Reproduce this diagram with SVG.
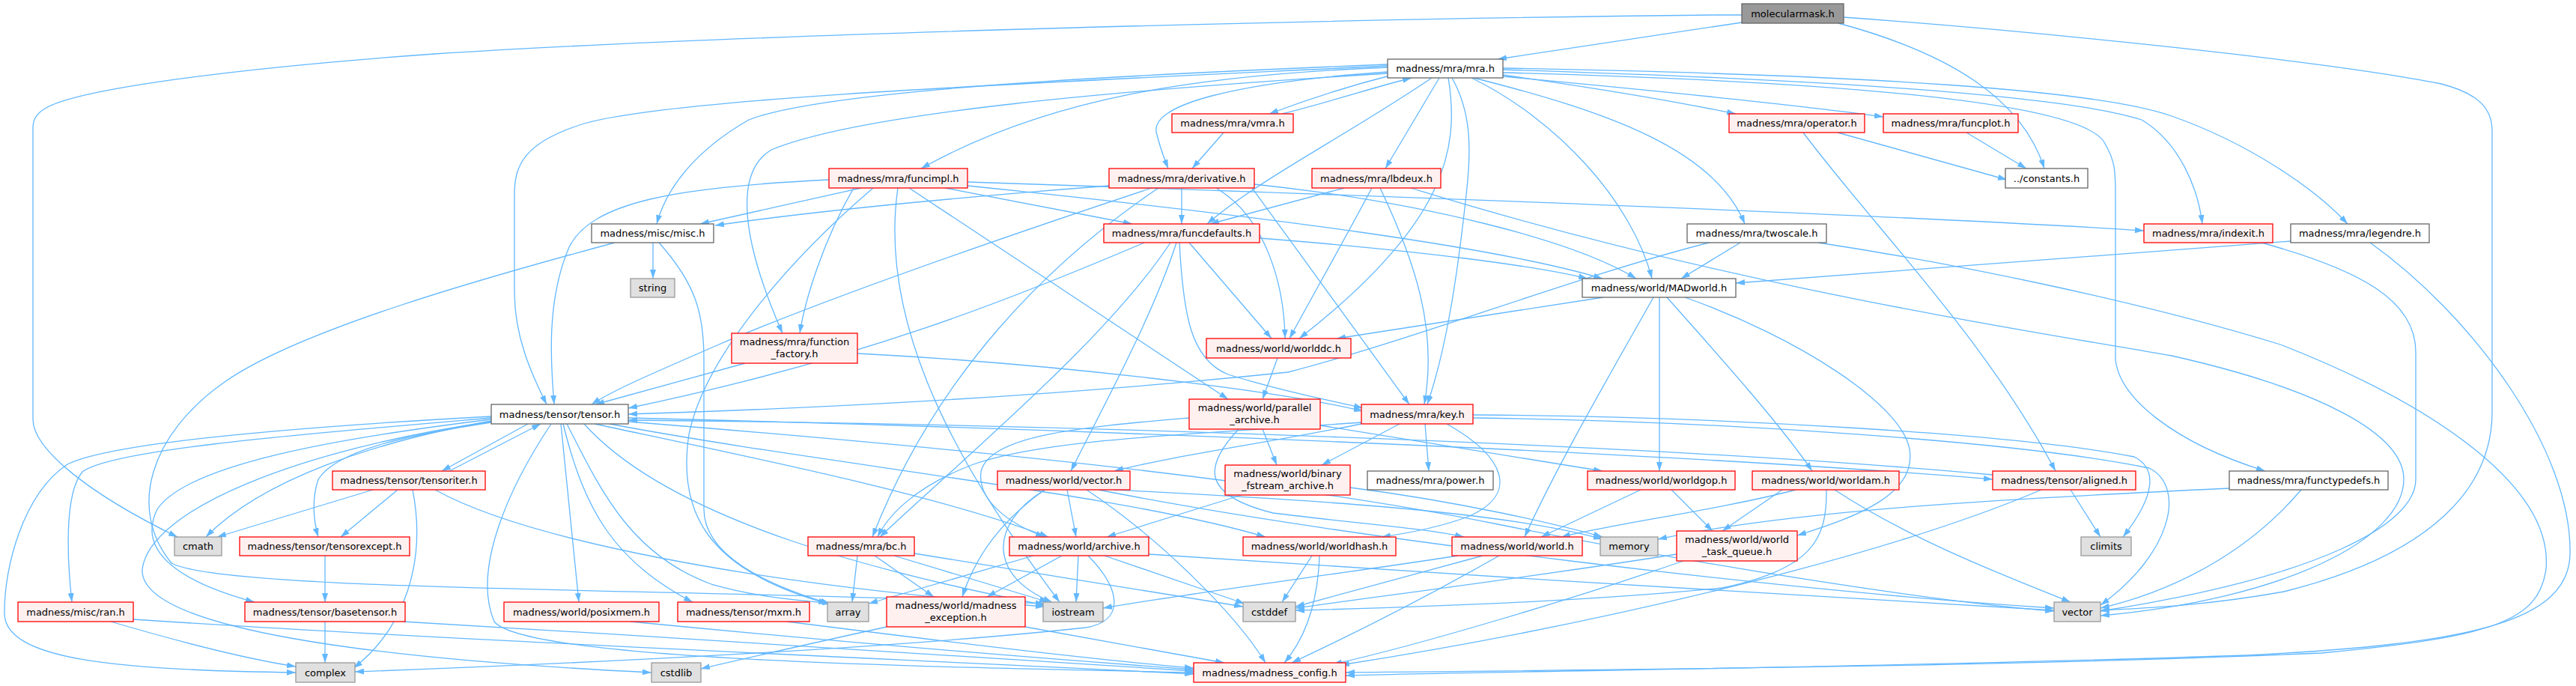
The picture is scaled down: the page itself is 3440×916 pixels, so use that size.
<svg xmlns="http://www.w3.org/2000/svg" width="3440" height="916" viewBox="0 0 3440 916">
<defs>
<marker id="a" viewBox="0 0 12 8" refX="12" refY="4" markerWidth="12" markerHeight="8" markerUnits="userSpaceOnUse" orient="auto"><path d="M0,0 L12,4 L0,8 z" fill="#63b8ff"/></marker>
</defs>
<style>
.e path{fill:none;stroke:#63b8ff;stroke-width:1.3;marker-end:url(#a)}
rect{stroke-width:1.3}
.w rect{fill:#ffffff;stroke:#666666}
.r rect{fill:#fff0f0;stroke:#ff0000}
.g rect{fill:#e0e0e0;stroke:#999999}
.k rect{fill:#999999;stroke:#666666}
text{font-family:"DejaVu Sans","Liberation Sans",sans-serif;font-size:13px;fill:#000000;text-anchor:middle}
</style>
<rect width="3440" height="916" fill="#ffffff"/>
<g class="e" id="edges">
<path d="M2326,30 L2000,79"/>
<path d="M2326,20 L2290,20 C1800,25 1000,45 580,72 C300,92 100,120 60,145 C48,152 44,160 44,170 L44,560 C44,600 120,660 237,717"/>
<path d="M2455,31 C2600,70 2700,130 2730,225"/>
<path d="M2462,23 C2700,40 3100,80 3260,112 C3310,125 3328,145 3328,175 L3328,550 C3328,650 3250,740 3050,790 C2950,808 2870,812 2805,815"/>
<path d="M1860,100 C1800,115 1740,135 1695,152"/>
<path d="M1712,152 C1780,135 1840,115 1885,104"/>
<path d="M2007,100 C2150,120 2250,138 2318,152"/>
<path d="M2007,102 C2200,120 2400,140 2515,156"/>
<path d="M1853,90 C1600,100 1400,130 1230,225"/>
<path d="M1853,96 C1650,110 1530,140 1545,180 C1550,200 1555,212 1560,225"/>
<path d="M1922,104 L1850,225"/>
<path d="M1853,86 C1500,100 1100,120 1000,160 C930,200 890,250 877,299"/>
<path d="M1912,104 C1800,180 1680,240 1612,299"/>
<path d="M1968,104 C2150,150 2290,200 2330,299"/>
<path d="M2007,93 C2400,105 2750,125 2860,160 C2910,190 2935,250 2941,299"/>
<path d="M2007,91 C2500,100 2800,120 2900,155 C3000,190 3090,250 3135,299"/>
<path d="M1965,104 C2080,160 2180,270 2206,372"/>
<path d="M1853,98 C1500,120 1150,150 1030,200 C980,230 990,320 1045,445"/>
<path d="M1934,104 C1950,200 1930,300 1735,452"/>
<path d="M1853,88 C1400,110 900,130 780,165 C700,190 687,220 687,260 L687,390 C687,450 710,500 730,540"/>
<path d="M1939,104 C1965,150 1965,200 1958,260 C1945,380 1930,470 1906,540"/>
<path d="M2007,97 C2500,110 2780,140 2810,190 C2825,215 2825,230 2825,260 L2825,480 C2830,530 2900,590 3025,629"/>
<path d="M1634,177 L1592,225"/>
<path d="M2454,177 L2680,240"/>
<path d="M2408,177 C2500,300 2650,450 2745,629"/>
<path d="M2626,177 L2706,225"/>
<path d="M1150,251 L935,299"/>
<path d="M1262,251 L1512,299"/>
<path d="M1292,243 C1800,260 2500,285 2863,308"/>
<path d="M1292,248 C1700,290 2000,330 2140,372"/>
<path d="M1140,251 C1100,320 1075,400 1068,445"/>
<path d="M1107,240 C900,250 790,270 760,330 C730,400 735,480 740,540"/>
<path d="M1214,251 L1640,533"/>
<path d="M1166,251 C1050,350 940,480 920,580 C905,680 940,760 1105,806"/>
<path d="M1199,251 C1170,450 1300,650 1415,804"/>
<path d="M1481,248 C1300,262 1100,280 955,301"/>
<path d="M1578,251 L1578,299"/>
<path d="M1675,246 C1900,270 2100,320 2185,372"/>
<path d="M1624,251 C1690,290 1715,380 1716,452"/>
<path d="M1672,251 L1882,540"/>
<path d="M1538,251 C1300,330 1100,400 960,460 C880,495 820,520 790,540"/>
<path d="M1547,251 C1400,350 1250,500 1165,717"/>
<path d="M1795,251 L1616,299"/>
<path d="M1832,251 C1790,330 1750,400 1722,452"/>
<path d="M1843,251 C1890,350 1920,440 1902,540"/>
<path d="M1884,251 C2300,380 2700,440 2900,475 C3100,520 3210,580 3210,640 C3210,720 3050,800 2805,822"/>
<path d="M872,324 L872,372"/>
<path d="M821,324 C650,370 400,440 300,510 C200,580 170,680 229,752 C300,790 900,785 1395,806"/>
<path d="M880,324 C930,380 940,420 940,480 L940,680 C940,740 1020,780 1108,806"/>
<path d="M1682,318 C1900,335 2050,355 2120,372"/>
<path d="M1588,324 L1698,452"/>
<path d="M1528,324 C1350,400 1150,480 839,545"/>
<path d="M1571,324 C1540,420 1480,530 1430,629"/>
<path d="M1575,324 C1580,420 1590,480 1640,500 C1720,525 1780,535 1820,545"/>
<path d="M1563,324 C1480,450 1300,600 1175,717"/>
<path d="M2324,324 L2245,372"/>
<path d="M2290,322 C2100,370 1900,450 1720,497 C1400,530 1100,545 839,553"/>
<path d="M2428,324 C2600,350 2850,400 3045,460 C3250,540 3410,650 3400,760 C3390,830 3330,850 3100,872 C2700,890 2100,895 1797,898"/>
<path d="M3020,324 C3150,360 3226,400 3226,470 L3226,640 C3226,700 3100,770 2805,816"/>
<path d="M3059,322 L2318,378"/>
<path d="M3165,324 C3300,420 3435,600 3432,740 C3430,830 3300,860 3000,875 C2500,892 2000,896 1797,902"/>
<path d="M2141,397 L1785,452"/>
<path d="M2216,397 L2216,629"/>
<path d="M2208,397 C2150,500 2080,620 2036,717"/>
<path d="M2226,397 C2300,480 2380,570 2420,629"/>
<path d="M2250,397 C2400,450 2540,540 2550,600 C2560,660 2480,690 2400,715"/>
<path d="M995,485 L795,540"/>
<path d="M1145,472 C1400,485 1700,520 1820,549"/>
<path d="M1706,478 L1686,533"/>
<path d="M705,566 L590,629"/>
<path d="M600,629 L722,566"/>
<path d="M839,558 C1400,572 2200,602 2661,640"/>
<path d="M2661,634 C2200,592 1400,566 839,561"/>
<path d="M656,562 C500,590 350,640 275,717"/>
<path d="M656,564 C550,580 450,600 425,640 C415,670 420,700 425,717"/>
<path d="M656,558 C400,580 150,600 110,630 C85,660 90,750 96,804"/>
<path d="M656,556 C400,570 150,590 90,620 C30,660 5,760 6,820 C8,880 150,895 395,898"/>
<path d="M656,560 C450,585 250,620 210,680 C180,740 250,780 340,804"/>
<path d="M656,563 C400,600 200,680 190,760 C185,840 500,880 870,898"/>
<path d="M749,566 L773,804"/>
<path d="M752,566 C780,680 820,750 925,804"/>
<path d="M757,566 C800,650 840,740 950,780 C1020,800 1080,802 1110,806"/>
<path d="M736,566 C680,650 630,760 660,830 C700,880 1200,890 1594,898"/>
<path d="M794,566 C1000,610 1250,660 1400,717"/>
<path d="M814,566 C1100,620 1500,660 1690,717"/>
<path d="M780,566 C900,700 1200,770 1395,808"/>
<path d="M839,563 C1300,600 1700,640 2000,700 C2300,760 2600,805 2743,816"/>
<path d="M1903,566 L1908,629"/>
<path d="M1869,566 L1765,621"/>
<path d="M1932,566 C2010,610 2030,660 1960,690 C1920,705 1880,712 1845,717"/>
<path d="M1818,564 C1600,580 1400,585 1300,620 C1220,650 1185,690 1172,717"/>
<path d="M1818,566 C1700,590 1560,610 1488,629"/>
<path d="M1967,554 C2300,556 2700,580 2850,610 C2880,625 2880,660 2835,717"/>
<path d="M1967,558 C2300,562 2700,590 2870,625 C2920,650 2900,740 2805,808"/>
<path d="M1686,573 L1705,621"/>
<path d="M1588,558 C1450,570 1320,580 1310,630 C1305,670 1350,700 1395,717"/>
<path d="M1654,573 C1610,620 1600,660 1700,685 C1820,700 1900,705 1955,717"/>
<path d="M1763,568 L2140,629"/>
<path d="M498,654 L290,717"/>
<path d="M531,654 L455,717"/>
<path d="M551,654 C570,750 540,840 472,892"/>
<path d="M581,654 C700,720 1000,780 1395,810"/>
<path d="M1425,654 L1437,717"/>
<path d="M1395,654 C1330,700 1300,750 1285,797"/>
<path d="M1395,654 C1320,700 1320,770 1405,804"/>
<path d="M1451,654 C1550,720 1650,820 1690,885"/>
<path d="M1486,654 C1700,665 2000,680 2140,720"/>
<path d="M1467,654 C1800,720 2400,790 2743,812"/>
<path d="M1658,661 L1478,717"/>
<path d="M1803,651 C1950,670 2080,700 2140,717"/>
<path d="M2191,654 L2058,717"/>
<path d="M2232,654 L2287,709"/>
<path d="M2380,654 L2300,709"/>
<path d="M2398,654 C2300,680 2150,700 2085,717"/>
<path d="M2450,654 C2550,720 2680,770 2765,804"/>
<path d="M2439,654 C2440,720 2420,760 2300,785 C2100,805 1850,812 1730,815"/>
<path d="M2765,654 L2805,717"/>
<path d="M2726,654 C2500,750 2100,840 1790,888"/>
<path d="M2977,652 C2700,665 2400,680 2214,720"/>
<path d="M3073,654 C3000,740 2900,790 2805,812"/>
<path d="M434,742 L434,804"/>
<path d="M1145,742 L1138,804"/>
<path d="M1168,742 L1247,797"/>
<path d="M1194,742 L1400,804"/>
<path d="M1221,739 L1660,810"/>
<path d="M1380,742 L1160,806"/>
<path d="M1418,742 L1318,797"/>
<path d="M1440,742 L1437,804"/>
<path d="M1475,742 L1662,806"/>
<path d="M1534,740 C1900,765 2400,795 2743,815"/>
<path d="M1453,742 C1500,790 1500,830 1450,838 C1200,865 800,885 474,897"/>
<path d="M1752,742 L1712,804"/>
<path d="M1762,742 C1760,800 1745,850 1715,885"/>
<path d="M1947,742 C1800,765 1600,790 1473,812"/>
<path d="M1980,742 L1730,810"/>
<path d="M2002,742 C1900,800 1800,850 1725,885"/>
<path d="M2248,749 C2100,800 1900,860 1780,887"/>
<path d="M2239,740 C2050,770 1850,795 1730,812"/>
<path d="M148,830 C250,860 330,880 395,890"/>
<path d="M178,827 C600,855 1200,880 1594,900"/>
<path d="M434,830 L434,885"/>
<path d="M538,830 C900,850 1300,880 1594,896"/>
<path d="M842,830 C1100,855 1400,880 1594,894"/>
<path d="M1051,830 C1250,855 1450,880 1594,892"/>
<path d="M1184,837 C1080,860 990,880 936,893"/>
<path d="M1369,837 L1635,885"/>
</g>
<g id="node0" class="k"><rect x="2326" y="5" width="136" height="26"/><text x="2394" y="22.5">molecularmask.h</text></g>
<g id="node1" class="w"><rect x="1853" y="79" width="154" height="25"/><text x="1930" y="96">madness/mra/mra.h</text></g>
<g id="node2" class="r"><rect x="1565" y="152" width="162" height="25"/><text x="1646" y="169">madness/mra/vmra.h</text></g>
<g id="node3" class="r"><rect x="2309" y="152" width="181" height="25"/><text x="2399.5" y="169">madness/mra/operator.h</text></g>
<g id="node4" class="r"><rect x="2515" y="152" width="180" height="25"/><text x="2605" y="169">madness/mra/funcplot.h</text></g>
<g id="node5" class="r"><rect x="1107" y="225" width="185" height="26"/><text x="1199.5" y="242.5">madness/mra/funcimpl.h</text></g>
<g id="node6" class="r"><rect x="1481" y="225" width="194" height="26"/><text x="1578" y="242.5">madness/mra/derivative.h</text></g>
<g id="node7" class="r"><rect x="1752" y="225" width="172" height="26"/><text x="1838" y="242.5">madness/mra/lbdeux.h</text></g>
<g id="node8" class="w"><rect x="2678" y="225" width="110" height="26"/><text x="2733" y="242.5">../constants.h</text></g>
<g id="node9" class="w"><rect x="790" y="299" width="163" height="25"/><text x="871.5" y="316">madness/misc/misc.h</text></g>
<g id="node10" class="r"><rect x="1474" y="299" width="208" height="25"/><text x="1578" y="316">madness/mra/funcdefaults.h</text></g>
<g id="node11" class="w"><rect x="2253" y="299" width="186" height="25"/><text x="2346" y="316">madness/mra/twoscale.h</text></g>
<g id="node12" class="r"><rect x="2863" y="299" width="172" height="25"/><text x="2949" y="316">madness/mra/indexit.h</text></g>
<g id="node13" class="w"><rect x="3059" y="299" width="185" height="25"/><text x="3151.5" y="316">madness/mra/legendre.h</text></g>
<g id="node14" class="g"><rect x="842" y="372" width="59" height="25"/><text x="871.5" y="389">string</text></g>
<g id="node15" class="w"><rect x="2113" y="372" width="205" height="25"/><text x="2215.5" y="389">madness/world/MADworld.h</text></g>
<g id="node16" class="r"><rect x="977" y="445" width="168" height="40"/><text x="1061" y="461">madness/mra/function</text><text x="1061" y="477">_factory.h</text></g>
<g id="node17" class="r"><rect x="1611" y="452" width="193" height="26"/><text x="1707.5" y="469.5">madness/world/worlddc.h</text></g>
<g id="node18" class="w"><rect x="656" y="540" width="183" height="26"/><text x="747.5" y="557.5">madness/tensor/tensor.h</text></g>
<g id="node19" class="r"><rect x="1818" y="540" width="149" height="26"/><text x="1892.5" y="557.5">madness/mra/key.h</text></g>
<g id="node20" class="r"><rect x="1588" y="533" width="175" height="40"/><text x="1675.5" y="549">madness/world/parallel</text><text x="1675.5" y="565">_archive.h</text></g>
<g id="node21" class="r"><rect x="444" y="629" width="204" height="25"/><text x="546" y="646">madness/tensor/tensoriter.h</text></g>
<g id="node22" class="r"><rect x="1332" y="629" width="177" height="25"/><text x="1420.5" y="646">madness/world/vector.h</text></g>
<g id="node23" class="r"><rect x="1636" y="621" width="167" height="40"/><text x="1719.5" y="637">madness/world/binary</text><text x="1719.5" y="653">_fstream_archive.h</text></g>
<g id="node24" class="w"><rect x="1826" y="629" width="168" height="25"/><text x="1910" y="646">madness/mra/power.h</text></g>
<g id="node25" class="r"><rect x="2120" y="629" width="197" height="25"/><text x="2218.5" y="646">madness/world/worldgop.h</text></g>
<g id="node26" class="r"><rect x="2340" y="629" width="196" height="25"/><text x="2438" y="646">madness/world/worldam.h</text></g>
<g id="node27" class="r"><rect x="2661" y="629" width="191" height="25"/><text x="2756.5" y="646">madness/tensor/aligned.h</text></g>
<g id="node28" class="w"><rect x="2977" y="629" width="212" height="25"/><text x="3083" y="646">madness/mra/functypedefs.h</text></g>
<g id="node29" class="g"><rect x="233" y="717" width="63" height="25"/><text x="264.5" y="734">cmath</text></g>
<g id="node30" class="r"><rect x="320" y="717" width="227" height="25"/><text x="433.5" y="734">madness/tensor/tensorexcept.h</text></g>
<g id="node31" class="r"><rect x="1079" y="717" width="142" height="25"/><text x="1150" y="734">madness/mra/bc.h</text></g>
<g id="node32" class="r"><rect x="1348" y="717" width="186" height="25"/><text x="1441" y="734">madness/world/archive.h</text></g>
<g id="node33" class="r"><rect x="1660" y="717" width="204" height="25"/><text x="1762" y="734">madness/world/worldhash.h</text></g>
<g id="node34" class="r"><rect x="1939" y="717" width="174" height="25"/><text x="2026" y="734">madness/world/world.h</text></g>
<g id="node35" class="g"><rect x="2137" y="717" width="77" height="25"/><text x="2175.5" y="734">memory</text></g>
<g id="node36" class="r"><rect x="2239" y="709" width="161" height="40"/><text x="2319.5" y="725">madness/world/world</text><text x="2319.5" y="741">_task_queue.h</text></g>
<g id="node37" class="g"><rect x="2779" y="717" width="67" height="25"/><text x="2812.5" y="734">climits</text></g>
<g id="node38" class="r"><rect x="24" y="804" width="154" height="26"/><text x="101" y="821.5">madness/misc/ran.h</text></g>
<g id="node39" class="r"><rect x="327" y="804" width="214" height="26"/><text x="434" y="821.5">madness/tensor/basetensor.h</text></g>
<g id="node40" class="r"><rect x="673" y="804" width="207" height="26"/><text x="776.5" y="821.5">madness/world/posixmem.h</text></g>
<g id="node41" class="r"><rect x="905" y="804" width="176" height="26"/><text x="993" y="821.5">madness/tensor/mxm.h</text></g>
<g id="node42" class="g"><rect x="1105" y="804" width="55" height="26"/><text x="1132.5" y="821.5">array</text></g>
<g id="node43" class="r"><rect x="1184" y="797" width="185" height="40"/><text x="1276.5" y="813">madness/world/madness</text><text x="1276.5" y="829">_exception.h</text></g>
<g id="node44" class="g"><rect x="1393" y="804" width="80" height="26"/><text x="1433" y="821.5">iostream</text></g>
<g id="node45" class="g"><rect x="1660" y="804" width="70" height="26"/><text x="1695" y="821.5">cstddef</text></g>
<g id="node46" class="g"><rect x="2743" y="804" width="62" height="26"/><text x="2774" y="821.5">vector</text></g>
<g id="node47" class="g"><rect x="395" y="885" width="79" height="26"/><text x="434.5" y="902.5">complex</text></g>
<g id="node48" class="g"><rect x="870" y="885" width="66" height="26"/><text x="903" y="902.5">cstdlib</text></g>
<g id="node49" class="r"><rect x="1594" y="885" width="203" height="26"/><text x="1695.5" y="902.5">madness/madness_config.h</text></g>
</svg>
